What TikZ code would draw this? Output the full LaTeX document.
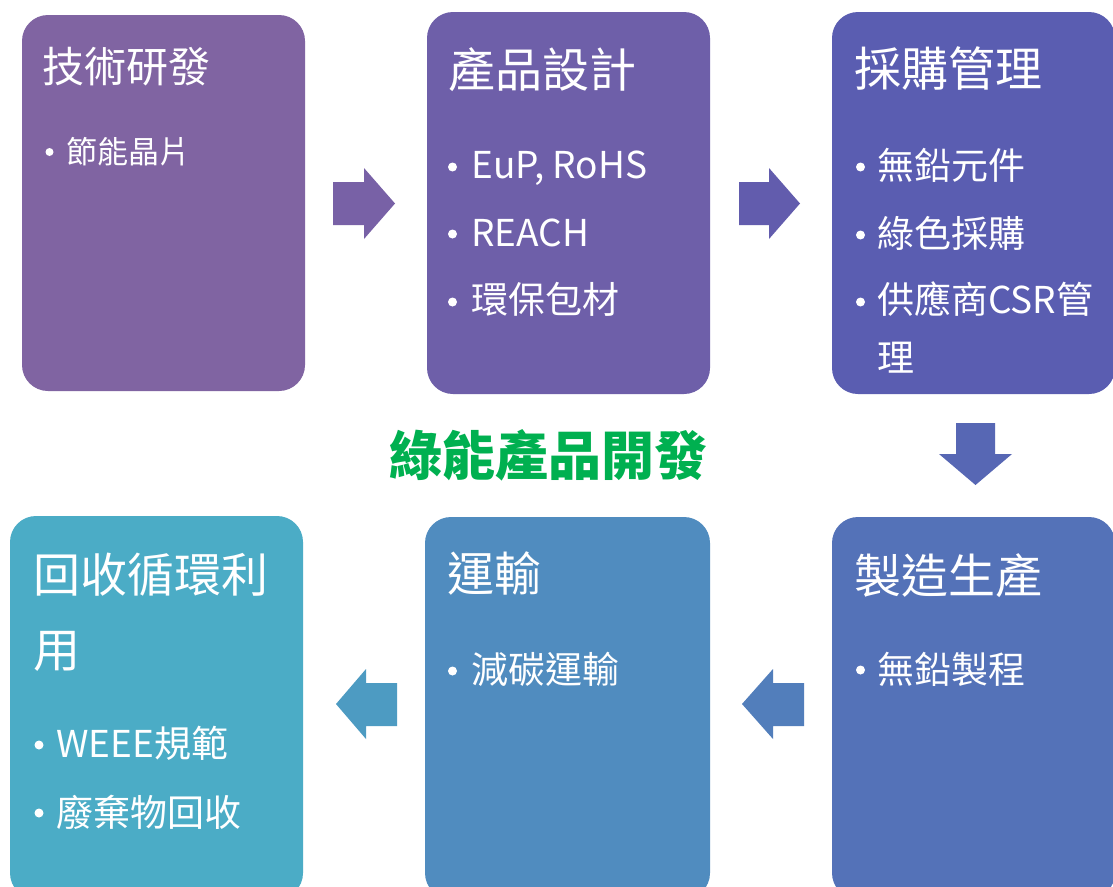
\documentclass[tikz,border=0pt]{standalone}
\usepackage{fontspec}
\setmainfont{Noto Sans CJK TC}
\definecolor{c0}{RGB}{128,100,162}
\definecolor{c1}{RGB}{120,97,166}
\definecolor{c2}{RGB}{110,95,169}
\definecolor{c3}{RGB}{98,92,173}
\definecolor{c4}{RGB}{90,93,177}
\definecolor{c5}{RGB}{87,103,180}
\definecolor{c6}{RGB}{84,114,184}
\definecolor{c7}{RGB}{82,126,187}
\definecolor{c8}{RGB}{80,140,191}
\definecolor{c9}{RGB}{77,155,194}
\definecolor{c10}{RGB}{75,172,198}
\definecolor{greentxt}{RGB}{0,176,80}
\begin{document}
\begin{tikzpicture}[x=1pt,y=-1pt,
  box/.style={rectangle, rounded corners=26pt, inner sep=0pt, draw=none},
  ttl/.style={text=white, anchor=base west, inner sep=0pt, font=\fontsize{47}{47}\selectfont},
  itm/.style={text=white, anchor=base west, inner sep=0pt, font=\fontsize{37}{37}\selectfont},
  bul/.style={circle, fill=white, inner sep=0pt, minimum size=9pt},
  blockarrow/.style={draw=none}]
\clip (0,0) rectangle (1113,886);
\fill[white] (0,0) rectangle (1113,886);

% boxes
\node[box, fill=c0, minimum width=283pt, minimum height=376pt] (b1) at (163.5,203) {};
\node[box, fill=c2, minimum width=283pt, minimum height=382pt] (b2) at (568.5,203) {};
\node[box, fill=c4, minimum width=283pt, minimum height=382pt] (b3) at (973.5,203) {};
\node[box, fill=c6, minimum width=283pt, minimum height=382pt] (b4) at (973.5,708) {};
\node[box, fill=c8, minimum width=285pt, minimum height=382pt] (b5) at (567.5,708) {};
\node[box, fill=c10, minimum width=293pt, minimum height=383pt] (b6) at (156.5,707.5) {};

% block arrows
\fill[c1, blockarrow] (333,182) -- (364,182) -- (364,168) -- (395,203.5) -- (364,239) -- (364,225) -- (333,225) -- cycle;
\fill[c3, blockarrow] (739,182) -- (769,182) -- (769,168) -- (800,203.5) -- (769,239) -- (769,225) -- (739,225) -- cycle;
\fill[c5, blockarrow] (956,423) -- (995,423) -- (995,454) -- (1012,454) -- (975.5,485) -- (939,454) -- (956,454) -- cycle;
\fill[c7, blockarrow] (804,683) -- (773,683) -- (773,669) -- (742,704) -- (773,739) -- (773,726) -- (804,726) -- cycle;
\fill[c9, blockarrow] (397,683) -- (366,683) -- (366,669) -- (336,704) -- (366,739) -- (366,726) -- (397,726) -- cycle;

% box 1
\node[ttl, font=\fontsize{42}{42}\selectfont] (t1) at (42,82.5) {技術研發};
\node[bul, minimum size=8pt] (d11) at (49.5,152) {};
\node[itm, font=\fontsize{31}{31}\selectfont] (i11) at (66,163) {節能晶片};

% box 2
\node[ttl] (t2) at (448,87) {產品設計};
\node[bul] (d21) at (452.5,167) {};
\node[itm] (i21) at (471,178) {EuP, RoHS};
\node[bul] (d22) at (452.5,234) {};
\node[itm] (i22) at (471,246) {REACH};
\node[bul] (d23) at (452.5,302) {};
\node[itm] (i23) at (471,313) {環保包材};

% box 3
\node[ttl] (t3) at (854,86.5) {採購管理};
\node[bul] (d31) at (860.5,167) {};
\node[itm] (i31) at (877,179) {無鉛元件};
\node[bul] (d32) at (860.5,235) {};
\node[itm] (i32) at (877,247) {綠色採購};
\node[bul] (d33) at (860.5,302) {};
\node[itm] (i33) at (877,313) {供應商CSR管};
\node[itm] (i34) at (877,371) {理};

% box 4
\node[ttl] (t4) at (854,593) {製造生產};
\node[bul] (d41) at (860.5,670) {};
\node[itm] (i41) at (877,683) {無鉛製程};

% box 5
\node[ttl] (t5) at (447,591) {運輸};
\node[bul] (d51) at (452.5,671) {};
\node[itm] (i51) at (471,683) {減碳運輸};

% box 6
\node[ttl] (t6) at (33,592) {回收循環利};
\node[ttl] (t6b) at (33,667) {用};
\node[bul] (d61) at (39,745) {};
\node[itm] (i61) at (56,757) {WEEE規範};
\node[bul] (d62) at (39,813) {};
\node[itm] (i62) at (56,826) {廢棄物回收};

% center title
\node[text=greentxt, anchor=base, inner sep=0pt, font=\fontsize{53}{53}\selectfont\bfseries] (center) at (548,475) {綠能產品開發};
\end{tikzpicture}
\end{document}
